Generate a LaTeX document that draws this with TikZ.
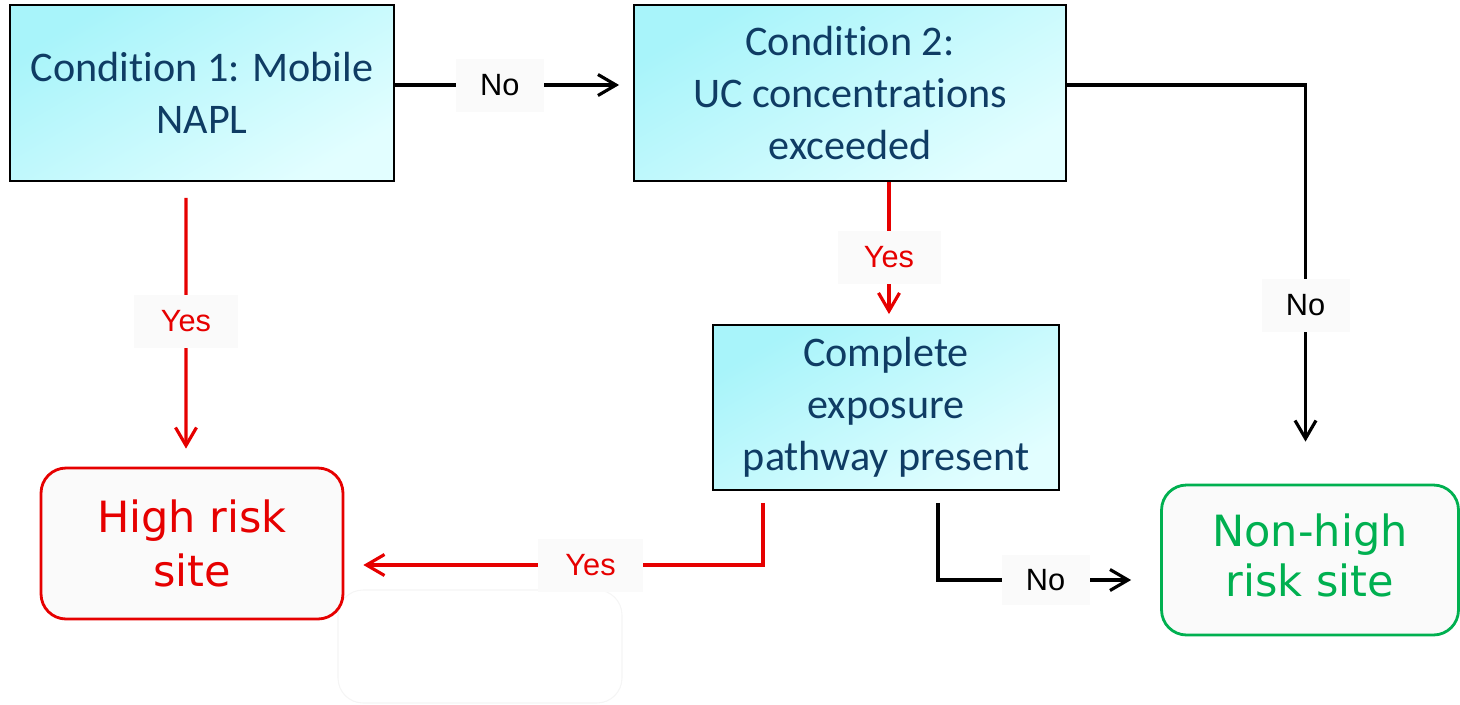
\documentclass[tikz,border=0pt]{standalone}
\usepackage{fontspec}
\setmainfont[RawFeature={-liga;-clig;-dlig}]{Carlito}
\newfontfamily\arialf{Liberation Sans}
\newfontfamily\verdf{DejaVu Sans}
\usetikzlibrary{arrows.meta}
\definecolor{txtblue}{HTML}{0F3C64}
\definecolor{cyanA}{HTML}{A8F4FA}
\definecolor{cyanB}{HTML}{E2FEFF}
\definecolor{myred}{HTML}{E60000}
\definecolor{mygreen}{HTML}{00B050}
\definecolor{lblbg}{HTML}{FAFAFA}
\tikzset{
  condbox/.style={draw=black, line width=1.1pt, top color=cyanA, bottom color=cyanB, shading angle=30,
    text=txtblue, align=center, inner sep=0pt,
    font=\fontsize{24}{29.6}\selectfont},
  resbox/.style={rounded corners=0.5cm, line width=1.6pt, fill=white!98!black, align=center, inner sep=0pt,
    font=\verdf\fontsize{24.5}{30.5}\selectfont},
  lbl/.style={fill=lblbg, inner sep=0pt, minimum width=1.76cm, minimum height=1.06cm,
    font=\arialf\fontsize{17.5}{20}\selectfont},
  conn/.style={line width=1.8pt, -{Straight Barb[length=0.36cm, width=0.42cm, line width=1.8pt]}},
  blk/.style={conn, draw=black},
  rd/.style={conn, draw=myred},
}
\begin{document}
\begin{tikzpicture}[x=0.02cm, y=-0.02cm]
\useasboundingbox (0,0) rectangle (1460,704);
% faint background box
\draw[draw=black!4, line width=0.6pt, rounded corners=0.5cm, fill=white] (338,590) rectangle (622,703);
% boxes
\node[condbox, minimum width=7.68cm, minimum height=3.52cm] (c1) at (202,93) {Condition 1: Mobile\\NAPL};
\node[condbox, minimum width=8.64cm, minimum height=3.52cm] (c2) at (850,93) {Condition 2:\\UC concentrations\\exceeded};
\node[condbox, minimum width=6.92cm, minimum height=3.30cm] (c3) at (886,407.5) {Complete\\exposure\\pathway present};
\node[resbox, draw=myred, text=myred, minimum width=6.04cm, minimum height=3.02cm] (high) at (192,543.5) {High risk\\site};
\node[resbox, draw=mygreen, text=mygreen, minimum width=5.94cm, minimum height=3.0cm, font=\verdf\fontsize{24.5}{28.5}\selectfont] (nh) at (1310,560) {\raisebox{0.2cm}{Non-high}\\\raisebox{0.2cm}{risk site}};
% connectors
\draw[blk, shorten >=0.28cm] ([yshift=0.16cm]c1.east) -- node[lbl, pos=0.44, text=black]{No} ([yshift=0.16cm]c2.west);
\draw[rd, shorten <=0.32cm, shorten >=0.36cm] ([xshift=-0.32cm]c1.south) -- node[lbl, pos=0.49, text=myred, minimum width=2.08cm]{Yes} ([xshift=-0.12cm]high.north);
\draw[rd, shorten >=0.2cm] ([xshift=0.06cm]c3.north |- c2.south) -- node[lbl, pos=0.53, text=myred, minimum width=2.06cm]{Yes} ([xshift=0.06cm]c3.north);
\draw[blk, shorten >=0.84cm] ([yshift=0.16cm]c2.east) -| node[lbl, pos=0.776, text=black]{No} ([xshift=-0.09cm]nh.north);
\draw[rd, shorten <=0.24cm, shorten >=0.38cm] ([xshift=-2.46cm]c3.south) |- node[lbl, pos=0.706, text=myred, minimum width=2.1cm]{Yes} ([yshift=-0.43cm]high.east);
\draw[blk, shorten <=0.24cm, shorten >=0.58cm] ([xshift=1.04cm]c3.south) |- node[lbl, pos=0.742, text=black, minimum height=1.0cm]{No} ([yshift=-0.4cm]nh.west);
\end{tikzpicture}
\end{document}
